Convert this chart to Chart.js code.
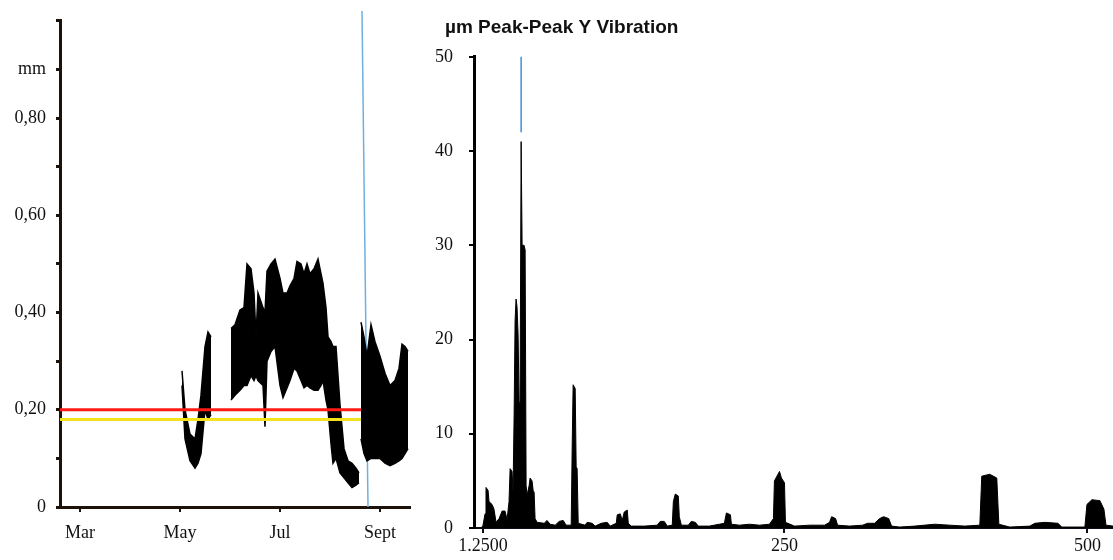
<!DOCTYPE html>
<html>
<head>
<meta charset="utf-8">
<script src="https://cdn.jsdelivr.net/npm/chart.js@4.4.1/dist/chart.umd.min.js"></script>
<style>
  html, body { margin: 0; padding: 0; background: #fff; }
  #wrap { position: relative; width: 1113px; height: 560px; overflow: hidden; }
  #left { position: absolute; left: 0; top: 0; }
  #right { position: absolute; left: 415px; top: 0; }
</style>
</head>
<body>
<div id="wrap">
  <canvas id="left" width="415" height="560"></canvas>
  <canvas id="right" width="698" height="560"></canvas>
</div>
<script>
// ---- left panel: displacement trend (mm), x = month number (Mar = 3)
const monthTicks = [3, 5, 7, 9];
const monthLabels = ['Mar', 'May', 'Jul', 'Sept'];
const mmTicks = [0, 0.1, 0.2, 0.3, 0.4, 0.5, 0.6, 0.7, 0.8, 0.9, 1.0];
const mmLabels = ['0', '', '0,20', '', '0,40', '', '0,60', '', '0,80', 'mm', ''];

const alarmLevel = 0.20;
const warnLevel = 0.18;

// each run of readings as upper / lower envelope of the band
const mayMonths = [5.04, 5.10, 5.20, 5.30, 5.36, 5.42, 5.50, 5.56, 5.62];
const mayHigh   = [0.28, 0.20, 0.15, 0.14, 0.18, 0.23, 0.33, 0.36, 0.35];
const mayLow    = [0.25, 0.14, 0.095, 0.08, 0.09, 0.11, 0.20, 0.18, 0.19];

const summerMonths = [6.02, 6.10, 6.20, 6.28, 6.34, 6.42, 6.48, 6.52, 6.56, 6.66, 6.70, 6.74, 6.82, 6.90,
  7.00, 7.06, 7.14, 7.20, 7.28, 7.34, 7.42, 7.48, 7.54, 7.60, 7.68, 7.76, 7.82, 7.86, 7.92, 7.96,
  8.02, 8.06, 8.12, 8.16, 8.20, 8.28, 8.36, 8.44, 8.52, 8.58];
const summerHigh = [0.367, 0.375, 0.405, 0.41, 0.50, 0.49, 0.44, 0.35, 0.44, 0.41, 0.40, 0.485, 0.50, 0.51,
  0.47, 0.44, 0.44, 0.455, 0.47, 0.505, 0.50, 0.48, 0.50, 0.48, 0.49, 0.51, 0.48, 0.46, 0.41, 0.35,
  0.34, 0.33, 0.33, 0.27, 0.21, 0.12, 0.095, 0.09, 0.08, 0.07];
const summerLow = [0.22, 0.23, 0.24, 0.25, 0.25, 0.27, 0.26, 0.27, 0.26, 0.25, 0.165, 0.30, 0.32, 0.33,
  0.25, 0.225, 0.245, 0.26, 0.285, 0.28, 0.26, 0.245, 0.25, 0.245, 0.24, 0.24, 0.25, 0.26, 0.22, 0.20,
  0.13, 0.09, 0.10, 0.085, 0.07, 0.06, 0.05, 0.04, 0.045, 0.05];

const septMonths = [8.62, 8.68, 8.74, 8.82, 8.90, 9.00, 9.10, 9.20, 9.30, 9.38, 9.44, 9.50, 9.56];
const septHigh   = [0.38, 0.35, 0.31, 0.375, 0.34, 0.31, 0.275, 0.25, 0.26, 0.285, 0.335, 0.33, 0.32];
const septLow    = [0.14, 0.11, 0.095, 0.10, 0.10, 0.10, 0.09, 0.085, 0.09, 0.095, 0.10, 0.11, 0.12];

const leftCursorMonths = [8.76, 8.64];
const leftCursorValues = [0, 1.02];

// ---- right panel: spectrum
const freqTicks = [1.25, 250, 500];
const freqLabels = ['1.2500', '250', '500'];

const freqs = [0, 1.25, 2.9, 3.7, 5.4, 6.2, 8.7, 10.3, 12.0, 14.5, 17.0, 19.4, 21.1, 22.7, 23.6, 25.2, 26.0,
  26.9, 27.7, 28.5, 29.3, 30.2, 31.0, 31.8, 32.7, 33.5, 35.1, 36.0, 36.8, 37.6, 39.3, 40.1, 41.7, 42.6,
  43.4, 44.2, 45.9, 51.7, 54.1, 56.6, 60.8, 64.1, 67.4, 69.8, 74.0, 74.8, 75.6, 77.3, 78.1, 78.9, 79.8,
  85.5, 87.2, 91.3, 93.8, 98.8, 103.7, 106.2, 111.2, 112.0, 114.5, 116.1, 117.8, 120.3, 121.1, 123.6,
  134.3, 145.0, 147.5, 150.8, 153.3, 157.4, 158.3, 159.9, 162.4, 163.2, 164.9, 170.7, 173.1, 176.4,
  178.9, 188.0, 196.3, 200.4, 202.1, 205.4, 206.2, 212.8, 221.1, 229.3, 237.6, 240.9, 241.7, 245.9,
  247.5, 250.0, 250.8, 258.3, 270.7, 283.1, 287.2, 288.9, 292.2, 293.8, 303.7, 314.5, 318.6, 324.4,
  328.5, 331.8, 336.0, 338.4, 345.0, 357.4, 374.0, 386.4, 398.8, 411.2, 412.8, 419.4, 425.2, 426.9,
  435.9, 452.5, 456.6, 464.9, 475.6, 478.9, 497.9, 499.6, 503.7, 510.3, 513.6, 515.3, 521.1];
const amps = [0, 0.3, 1.5, 4.3, 4.0, 2.8, 2.5, 2.0, 0.6, 1.0, 1.8, 1.8, 0.9, 2.8, 6.3, 6.0, 3.8,
  12, 22, 24.3, 23.5, 20.5, 13.3, 13.3, 41, 30, 30, 29.5, 4.5, 3.5, 4.5, 5.3, 5.0, 4.0,
  3.8, 1.0, 0.6, 0.5, 0.8, 0.4, 0.3, 0.7, 0.8, 0.3, 0.3, 8.5, 15.2, 14.8, 6.5, 6.3, 0.5,
  0.3, 0.6, 0.5, 0.2, 0.5, 0.6, 0.2, 0.5, 1.4, 1.5, 0.8, 1.7, 1.9, 0.5, 0.2,
  0.2, 0.3, 0.7, 0.7, 0.2, 0.3, 2.8, 3.6, 3.4, 1.2, 0.3, 0.3, 0.7, 0.6,
  0.2, 0.2, 0.4, 0.5, 1.6, 1.4, 0.4, 0.3, 0.4, 0.3, 0.4, 1.0, 5.0, 6.0,
  5.3, 4.8, 0.6, 0.2, 0.3, 0.3, 0.6, 1.2, 1.0, 0.3, 0.2, 0.3, 0.5, 0.5,
  1.0, 1.2, 1.0, 0.2, 0.1, 0.2, 0.4, 0.3, 0.2, 0.3, 5.5, 5.7, 5.3, 0.4,
  0.1, 0.2, 0.5, 0.6, 0.5, 0.1, 0.1, 2.5, 3.0, 2.9, 2.0, 0.3, 0.2];

const rightCursorFreq = [32.7, 32.7];
const rightCursorValues = [42, 50];

const pts = (xs, ys) => xs.map((x, i) => ({ x: x, y: ys[i] }));
const serif = 'Liberation Serif, Times New Roman, serif';
const ink = '#111';

function band(xs, hi, lo) {
  return [
    { data: pts(xs, lo), borderColor: '#000', borderWidth: 1.5, pointRadius: 0, fill: false, tension: 0 },
    { data: pts(xs, hi), borderColor: '#000', borderWidth: 1.5, pointRadius: 0, fill: '-1',
      backgroundColor: '#000', tension: 0 }
  ];
}

new Chart(document.getElementById('left'), {
  type: 'line',
  data: {
    datasets: [
      { data: pts([2.6, 8.62], [alarmLevel, alarmLevel]), borderColor: '#ff1a14', borderWidth: 3, pointRadius: 0 },
      { data: pts([2.6, 8.62], [warnLevel, warnLevel]), borderColor: '#f2e41c', borderWidth: 3, pointRadius: 0 },
      ...band(mayMonths, mayHigh, mayLow),
      ...band(summerMonths, summerHigh, summerLow),
      ...band(septMonths, septHigh, septLow),
      { data: pts(leftCursorMonths, leftCursorValues), borderColor: '#6fb0e0', borderWidth: 1.5,
        pointRadius: 0, clip: false }
    ]
  },
  options: {
    responsive: false,
    animation: false,
    devicePixelRatio: 1,
    layout: { padding: { top: 18, right: 5, left: 0, bottom: 0 } },
    plugins: { legend: { display: false }, tooltip: { enabled: false } },
    scales: {
      x: {
        type: 'linear', min: 2.6, max: 9.6,
        afterFit: s => { s.height = 53; },
        afterBuildTicks: s => { s.ticks = monthTicks.map(v => ({ value: v })); },
        border: { display: true, color: '#1c120a', width: 3 },
        grid: { drawOnChartArea: false, drawTicks: true, tickLength: 5, color: '#1c120a', lineWidth: 2 },
        ticks: {
          padding: 10, color: ink, font: { family: serif, size: 18 },
          callback: (v, i) => monthLabels[i]
        }
      },
      y: {
        type: 'linear', min: 0, max: 1.0,
        afterFit: s => { s.width = 60; },
        afterBuildTicks: s => { s.ticks = mmTicks.map(v => ({ value: v })); },
        border: { display: true, color: '#1c120a', width: 3 },
        grid: { drawOnChartArea: false, drawTicks: true, tickLength: 4, color: '#1c120a', lineWidth: 3 },
        ticks: {
          padding: 10, color: ink, font: { family: serif, size: 18 },
          callback: (v, i) => mmLabels[i]
        }
      }
    }
  }
});

// the title sits a little left of the plot, over the tick labels
const titleNudge = {
  id: 'titleNudge',
  afterLayout(chart) {
    if (chart.titleBlock) chart.titleBlock.left = chart.chartArea.left - 29;
  }
};

new Chart(document.getElementById('right'), {
  type: 'line',
  data: {
    datasets: [
      { data: pts(freqs, amps), borderColor: '#000', borderWidth: 1, pointRadius: 0, fill: 'origin',
        backgroundColor: '#000', tension: 0 },
      { data: pts(rightCursorFreq, rightCursorValues), borderColor: '#3d8fd6', borderWidth: 1.5,
        pointRadius: 0, clip: false }
    ]
  },
  plugins: [titleNudge],
  options: {
    responsive: false,
    animation: false,
    devicePixelRatio: 1,
    layout: { padding: { top: 0, right: 0, left: 0, bottom: 0 } },
    plugins: {
      legend: { display: false },
      tooltip: { enabled: false },
      title: {
        display: true, text: 'µm Peak-Peak Y Vibration', align: 'start', color: '#111',
        font: { family: 'Liberation Sans, Arial, sans-serif', size: 19, weight: 'bold' },
        padding: { top: 16, bottom: 18 }
      }
    },
    scales: {
      x: {
        type: 'linear', min: -6.2, max: 521.1,
        afterFit: s => { s.height = 32; },
        afterBuildTicks: s => { s.ticks = freqTicks.map(v => ({ value: v })); },
        border: { display: true, color: '#0d0d1a', width: 2 },
        grid: { drawOnChartArea: false, drawTicks: true, tickLength: 5, color: '#0d0d1a', lineWidth: 2 },
        ticks: {
          padding: 2, color: ink, maxRotation: 0, font: { family: serif, size: 18 },
          callback: (v, i) => freqLabels[i]
        }
      },
      y: {
        type: 'linear', min: 0, max: 50,
        afterFit: s => { s.width = 59; },
        border: { display: true, color: '#000', width: 3 },
        grid: { drawOnChartArea: false, drawTicks: true, tickLength: 5, color: '#000', lineWidth: 2 },
        ticks: { stepSize: 10, padding: 16, color: ink, font: { family: serif, size: 18 } }
      }
    }
  }
});
</script>
</body>
</html>
